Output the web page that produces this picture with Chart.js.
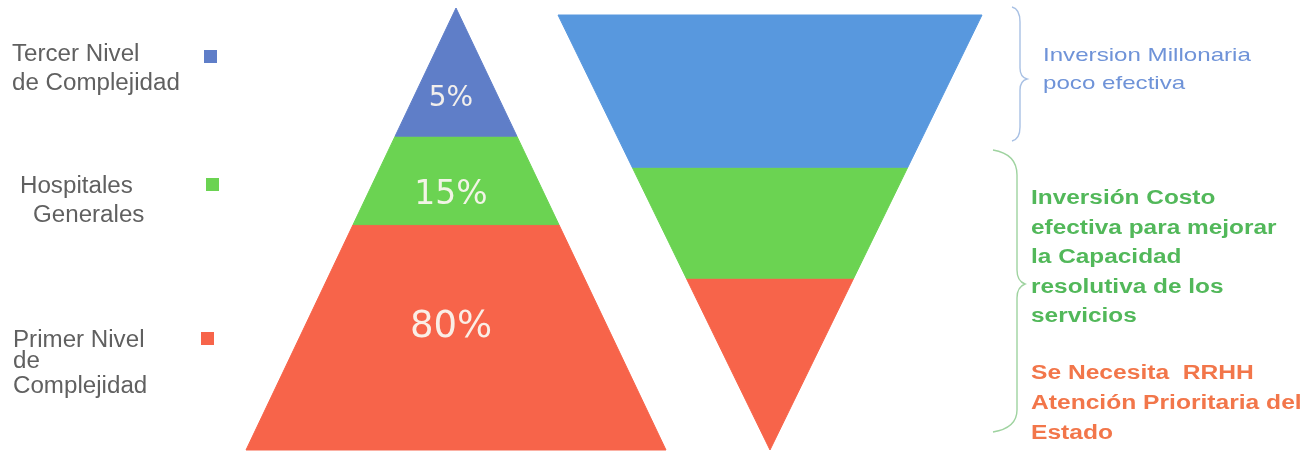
<!DOCTYPE html>
<html>
<head>
<meta charset="utf-8">
<script src="https://cdn.jsdelivr.net/npm/chart.js@4/dist/chart.umd.min.js"></script>
<style>
  html, body { margin: 0; background: #fff; }
  #wrap { width: 1313px; height: 451px; }
</style>
</head>
<body>
<div id="wrap"><canvas id="c"></canvas></div>
<script>
// niveles de atencion, de arriba hacia abajo
const levels = [["Tercer Nivel", "de Complejidad"], ["Hospitales", "Generales"], ["Primer Nivel", "de", "Complejidad"]]
const shares = [5, 15, 80]
// alto de cada franja, en % del alto de la figura
const pyramidBands = [29, 20, 51]
const funnelBands = [35, 25.5, 39.5]
const notes = [
  ["Inversion Millonaria", "poco efectiva"],
  ["Inversión Costo", "efectiva para mejorar", "la Capacidad", "resolutiva de los", "servicios"],
  ["Se Necesita  RRHH", "Atención Prioritaria del", "Estado"]
]

const pyramidColors = ["#5f7ec8", "#6bd352", "#f7644a"]
const funnelColors = ["#5898de", "#6bd352", "#f7644a"]

// geometria de las dos figuras (en unidades de las escalas)
const pyramid = { cx: 456, top: 8, bottom: 450, half: 210, inverted: false }
const funnel = { cx: 770, top: 15, bottom: 450, half: 212, inverted: true }

function bandPoints(shape, bands, i) {
  const total = bands.reduce((a, b) => a + b, 0)
  const d0 = bands.slice(0, i).reduce((a, b) => a + b, 0) / total
  const d1 = d0 + bands[i] / total
  const h = shape.bottom - shape.top
  const w = d => shape.half * (shape.inverted ? 1 - d : d)
  const y0 = shape.top + d0 * h, y1 = shape.top + d1 * h
  return [
    { x: shape.cx - w(d0), y: y0 },
    { x: shape.cx + w(d0), y: y0 },
    { x: shape.cx + w(d1), y: y1 },
    { x: shape.cx - w(d1), y: y1 },
    { x: shape.cx - w(d0), y: y0 }
  ]
}

const datasets = []
shares.forEach((s, i) => {
  datasets.push({
    label: levels[i].join(" "),
    data: bandPoints(pyramid, pyramidBands, i),
    backgroundColor: pyramidColors[i],
    borderColor: pyramidColors[i],
    borderWidth: 1
  })
  datasets.push({
    label: levels[i].join(" ") + " (inversion)",
    data: bandPoints(funnel, funnelBands, i),
    backgroundColor: funnelColors[i],
    borderColor: funnelColors[i],
    borderWidth: 1
  })
})
datasets.forEach(d => Object.assign(d, { showLine: true, fill: "shape", pointRadius: 0, tension: 0, clip: false }))

function stretchText(ctx, text, x, y, sx) {
  ctx.save()
  ctx.translate(x, y)
  ctx.scale(sx, 1)
  ctx.fillText(text, 0, 0)
  ctx.restore()
}

// etiquetas, leyenda, llaves y notas
const decor = {
  id: "decor",
  afterDatasetsDraw(chart) {
    const ctx = chart.ctx
    const xs = chart.scales.x, ys = chart.scales.y

    // porcentajes dentro de la piramide
    const labelDepth = [0.206, 0.425, 0.722]
    const labelSize = [28, 33, 37]
    ctx.fillStyle = "rgba(250,246,238,0.95)"
    ctx.textAlign = "center"
    ctx.textBaseline = "middle"
    shares.forEach((s, i) => {
      ctx.font = labelSize[i] + "px 'DejaVu Sans'"
      const y = pyramid.top + labelDepth[i] * (pyramid.bottom - pyramid.top)
      ctx.fillText(s + "%", xs.getPixelForValue(pyramid.cx - 5), ys.getPixelForValue(y))
    })

    // leyenda a la izquierda
    const legendPos = [
      { x: [12, 12], y: [61, 90], box: [204, 50] },
      { x: [20, 33], y: [193, 222], box: [206, 178] },
      { x: [13, 13, 13], y: [347, 368, 393], box: [201, 332] }
    ]
    ctx.textAlign = "left"
    ctx.textBaseline = "alphabetic"
    ctx.font = "23px 'Liberation Sans', Arial, sans-serif"
    levels.forEach((lines, i) => {
      const p = legendPos[i]
      ctx.fillStyle = "#606060"
      lines.forEach((t, k) => stretchText(ctx, t, p.x[k], p.y[k], 1.05))
      ctx.fillStyle = pyramidColors[i]
      ctx.fillRect(p.box[0], p.box[1], 13, 13)
    })

    // llaves
    ctx.lineWidth = 1.4
    ctx.strokeStyle = "#a9c1e4"
    ctx.beginPath()
    ctx.moveTo(1012, 7)
    ctx.quadraticCurveTo(1020, 9, 1020, 22)
    ctx.lineTo(1020, 68)
    ctx.quadraticCurveTo(1020, 77, 1027, 79)
    ctx.quadraticCurveTo(1020, 81, 1020, 90)
    ctx.lineTo(1020, 127)
    ctx.quadraticCurveTo(1020, 139, 1012, 141)
    ctx.stroke()

    ctx.strokeStyle = "#9fd3a0"
    ctx.beginPath()
    ctx.moveTo(993, 150)
    ctx.quadraticCurveTo(1017, 154, 1017, 175)
    ctx.lineTo(1017, 270)
    ctx.quadraticCurveTo(1017, 281, 1025, 284)
    ctx.quadraticCurveTo(1017, 287, 1017, 298)
    ctx.lineTo(1017, 410)
    ctx.quadraticCurveTo(1017, 428, 993, 432)
    ctx.stroke()

    // notas a la derecha
    ctx.font = "19px 'Liberation Sans', Arial, sans-serif"
    ctx.fillStyle = "#6f93d8"
    notes[0].forEach((t, k) => stretchText(ctx, t, 1043, 61 + k * 28, 1.27))

    ctx.font = "bold 20px 'Liberation Sans', Arial, sans-serif"
    ctx.fillStyle = "#52b85a"
    notes[1].forEach((t, k) => stretchText(ctx, t, 1031, 204 + k * 29.5, 1.22))

    ctx.fillStyle = "#f2764a"
    notes[2].forEach((t, k) => stretchText(ctx, t, 1031, 379 + k * 30, 1.23))
  }
}

new Chart(document.getElementById("c"), {
  type: "scatter",
  data: { datasets },
  options: {
    responsive: true,
    maintainAspectRatio: false,
    animation: false,
    layout: { padding: 0 },
    plugins: { legend: { display: false }, tooltip: { enabled: false } },
    scales: {
      x: { type: "linear", display: false, min: 0, max: 1313 },
      y: { type: "linear", display: false, min: 0, max: 451, reverse: true }
    }
  },
  plugins: [decor]
})
</script>
</body>
</html>
